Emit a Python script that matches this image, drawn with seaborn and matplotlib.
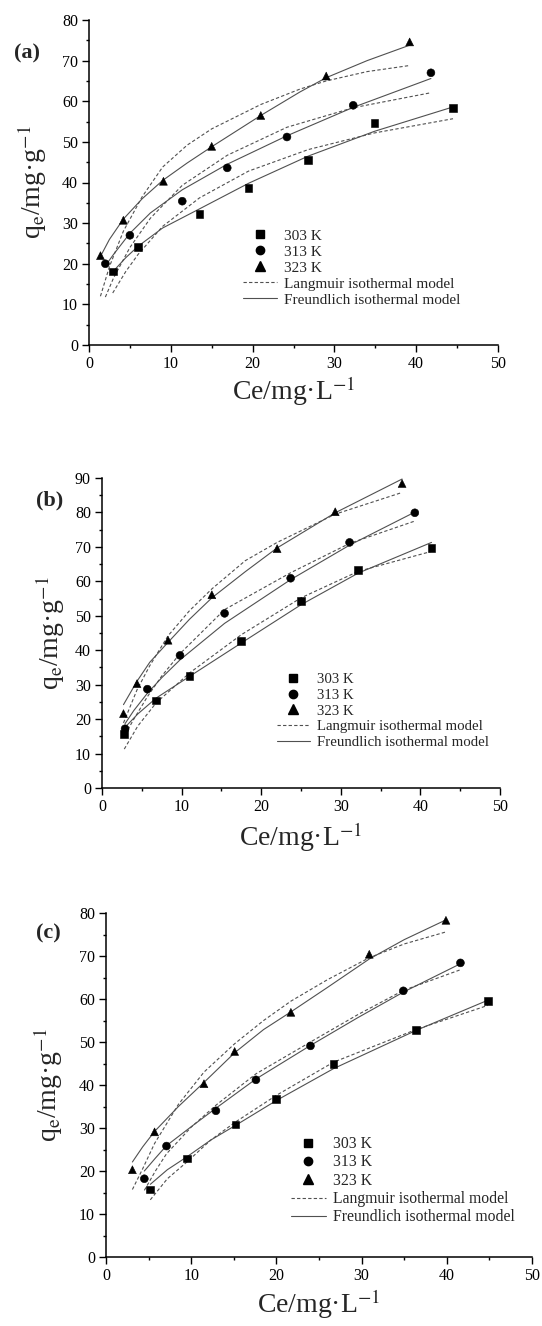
import numpy as np
import pandas as pd
import matplotlib
matplotlib.use("Agg")
import matplotlib.pyplot as plt
import seaborn as sns
from matplotlib.lines import Line2D
from matplotlib.ticker import MultipleLocator

# ---------------- data ----------------
TEMPS = ["303 K", "313 K", "323 K"]

# panel (a) experimental points
A_CE_303 = [2.9, 6.0, 13.5, 19.5, 26.8, 34.9, 44.5]
A_QE_303 = [18.1, 24.1, 32.2, 38.7, 45.6, 54.7, 58.4]
A_CE_313 = [2.0, 5.0, 11.4, 16.9, 24.2, 32.3, 41.8]
A_QE_313 = [20.0, 27.0, 35.4, 43.6, 51.2, 59.0, 67.0]
A_CE_323 = [1.4, 4.2, 9.1, 15.0, 21.0, 29.0, 39.2]
A_QE_323 = [22.0, 30.7, 40.3, 48.9, 56.5, 66.2, 74.6]
# panel (a) model curves
A_FX_303 = [2.9, 4.5, 6.0, 9.0, 13.5, 19.5, 26.8, 34.9, 44.5]
A_LANG_303 = [12.8, 18.1, 22.3, 29.2, 36.2, 42.8, 48.1, 52.2, 55.7]
A_FREU_303 = [18.0, 21.5, 24.3, 28.8, 33.5, 39.8, 46.5, 52.6, 58.6]
A_FX_313 = [2.0, 3.0, 5.0, 7.5, 11.4, 16.9, 24.2, 32.3, 41.8]
A_LANG_313 = [11.8, 16.5, 24.0, 31.2, 39.3, 46.7, 53.6, 58.4, 62.1]
A_FREU_313 = [19.5, 22.3, 27.5, 32.5, 38.2, 44.5, 51.5, 58.5, 65.6]
A_FX_323 = [1.4, 2.5, 4.2, 6.5, 9.0, 12.0, 15.0, 21.0, 25.8, 29.0, 34.0, 39.2]
A_LANG_323 = [12.0, 19.3, 28.0, 36.5, 43.8, 49.2, 53.2, 59.2, 63.0, 65.0, 67.3, 68.8]
A_FREU_323 = [21.8, 26.0, 31.0, 36.0, 40.5, 44.8, 48.8, 56.5, 62.3, 65.8, 70.0, 73.8]

# panel (b) experimental points
B_CE_303 = [2.8, 6.8, 11.0, 17.5, 25.0, 32.2, 41.4]
B_QE_303 = [15.8, 25.4, 32.6, 42.7, 54.3, 63.4, 69.8]
B_CE_313 = [2.9, 5.7, 9.8, 15.4, 23.7, 31.1, 39.3]
B_QE_313 = [17.2, 28.7, 38.5, 50.7, 60.9, 71.3, 79.9]
B_CE_323 = [2.7, 4.4, 8.3, 13.8, 22.0, 29.3, 37.7]
B_QE_323 = [21.6, 30.3, 42.9, 56.1, 69.5, 80.2, 88.4]
# panel (b) model curves
B_FX_303 = [2.8, 4.5, 6.8, 11.0, 17.5, 25.0, 32.2, 41.4]
B_LANG_303 = [11.3, 18.0, 24.7, 33.4, 44.5, 55.2, 62.9, 68.7]
B_FREU_303 = [17.4, 21.5, 26.1, 32.4, 42.1, 53.2, 62.4, 71.3]
B_FX_313 = [2.9, 4.0, 5.7, 7.5, 9.8, 15.4, 23.7, 31.1, 39.3]
B_LANG_313 = [15.5, 20.0, 26.5, 32.5, 39.0, 51.8, 62.5, 71.0, 77.5]
B_FREU_313 = [18.7, 22.5, 27.5, 32.0, 37.2, 47.8, 60.5, 70.5, 80.1]
B_FX_323 = [2.7, 4.4, 6.0, 8.3, 11.0, 13.8, 18.0, 22.0, 29.3, 37.7]
B_LANG_323 = [18.9, 28.5, 35.5, 44.2, 51.5, 57.8, 66.0, 71.3, 79.5, 85.8]
B_FREU_323 = [24.2, 31.0, 36.5, 42.3, 49.0, 55.2, 62.8, 69.7, 79.9, 89.7]

# panel (c) experimental points
C_CE_303 = [5.2, 9.5, 15.2, 20.0, 26.7, 36.4, 44.8]
C_QE_303 = [15.7, 22.9, 30.8, 36.7, 44.9, 52.7, 59.5]
C_CE_313 = [4.5, 7.1, 12.9, 17.6, 24.0, 34.9, 41.6]
C_QE_313 = [18.2, 25.8, 34.0, 41.2, 49.1, 61.9, 68.4]
C_CE_323 = [3.1, 5.7, 11.5, 15.1, 21.7, 30.9, 39.9]
C_QE_323 = [20.3, 29.1, 40.3, 47.8, 56.9, 70.4, 78.3]
# panel (c) model curves
C_FX_303 = [5.2, 7.2, 9.5, 12.3, 15.2, 20.0, 26.7, 36.4, 44.8]
C_LANG_303 = [13.3, 18.2, 22.1, 27.2, 31.4, 37.6, 45.3, 52.9, 58.5]
C_FREU_303 = [16.9, 20.3, 23.3, 27.2, 30.6, 36.4, 43.8, 52.7, 59.7]
C_FX_313 = [4.5, 5.8, 7.1, 10.0, 12.9, 17.6, 24.0, 29.5, 34.9, 41.6]
C_LANG_313 = [15.5, 20.0, 24.0, 30.2, 35.3, 42.6, 50.0, 56.3, 62.0, 66.8]
C_FREU_313 = [20.0, 23.0, 25.9, 30.3, 34.6, 41.4, 49.2, 55.6, 61.6, 68.2]
C_FX_323 = [3.1, 4.3, 5.7, 8.5, 11.5, 15.1, 18.5, 21.7, 26.0, 30.9, 35.0, 39.9]
C_LANG_323 = [15.7, 20.5, 26.4, 35.5, 43.0, 49.6, 55.0, 59.5, 64.5, 69.6, 72.8, 75.6]
C_FREU_323 = [22.1, 25.6, 29.2, 35.0, 40.6, 47.5, 52.9, 57.0, 62.7, 69.3, 73.8, 78.4]

LEGEND_LABELS = ["303 K", "313 K", "323 K",
                 "Langmuir isothermal model", "Freundlich isothermal model"]
X_LABEL = "Ce/mg\u00b7L$^{-1}$"
Y_LABEL = "q$_\\mathrm{e}$/mg\u00b7g$^{-1}$"


def points_frame(ces, qes):
    rows = []
    for t, ce, qe in zip(TEMPS, ces, qes):
        rows.append(pd.DataFrame({"Ce": ce, "qe": qe, "temp": t}))
    return pd.concat(rows, ignore_index=True)


def fits_frame(fxs, langs, freus):
    rows = []
    for t, fx, la, fr in zip(TEMPS, fxs, langs, freus):
        rows.append(pd.DataFrame({"Ce": fx, "qe": la, "temp": t, "model": "Langmuir"}))
        rows.append(pd.DataFrame({"Ce": fx, "qe": fr, "temp": t, "model": "Freundlich"}))
    return pd.concat(rows, ignore_index=True)


panels = [
    dict(pts=points_frame([A_CE_303, A_CE_313, A_CE_323], [A_QE_303, A_QE_313, A_QE_323]),
         fits=fits_frame([A_FX_303, A_FX_313, A_FX_323], [A_LANG_303, A_LANG_313, A_LANG_323],
                         [A_FREU_303, A_FREU_313, A_FREU_323]),
         ymax=80, rect=(89, 20, 498, 345), tag="(a)", tagpos=(27, 53),
         ylx=32, xly=391, leg=(243, 229), legfs=11),
    dict(pts=points_frame([B_CE_303, B_CE_313, B_CE_323], [B_QE_303, B_QE_313, B_QE_323]),
         fits=fits_frame([B_FX_303, B_FX_313, B_FX_323], [B_LANG_303, B_LANG_313, B_LANG_323],
                         [B_FREU_303, B_FREU_313, B_FREU_323]),
         ymax=90, rect=(102, 478, 500, 788), tag="(b)", tagpos=(50, 500),
         ylx=50, xly=837, leg=(277, 673), legfs=10.7),
    dict(pts=points_frame([C_CE_303, C_CE_313, C_CE_323], [C_QE_303, C_QE_313, C_QE_323]),
         fits=fits_frame([C_FX_303, C_FX_313, C_FX_323], [C_LANG_303, C_LANG_313, C_LANG_323],
                         [C_FREU_303, C_FREU_313, C_FREU_323]),
         ymax=80, rect=(106, 913, 532, 1257), tag="(c)", tagpos=(48, 933),
         ylx=48, xly=1304, leg=(291, 1136), legfs=11.3),
]

sns.set_style("ticks")
plt.rcParams["font.family"] = ["Liberation Serif", "DejaVu Serif"]
plt.rcParams["mathtext.fontset"] = "stix"

W, H = 542, 1326
fig = plt.figure(figsize=(W / 100, H / 100), dpi=100)

LINE_COLOR = "#505050"
DASH = (3, 2)
MARKERS = {"303 K": "s", "313 K": "o", "323 K": "^"}

for p in panels:
    l, t, r, b = p["rect"]
    ax = fig.add_axes([l / W, 1 - b / H, (r - l) / W, (b - t) / H])
    sns.lineplot(data=p["fits"], x="Ce", y="qe", units="temp", style="model",
                 estimator=None, sort=False, color=LINE_COLOR, linewidth=0.8,
                 dashes={"Langmuir": DASH, "Freundlich": ""}, legend=False, ax=ax)
    sns.scatterplot(data=p["pts"], x="Ce", y="qe", style="temp", markers=MARKERS,
                    color="black", edgecolor="black", s=32, linewidth=0.4,
                    legend=False, ax=ax, zorder=3)
    ax.set_xlim(0, 50)
    ax.set_ylim(0, p["ymax"])
    ax.xaxis.set_major_locator(MultipleLocator(10))
    ax.xaxis.set_minor_locator(MultipleLocator(5))
    ax.yaxis.set_major_locator(MultipleLocator(10))
    ax.yaxis.set_minor_locator(MultipleLocator(5))
    sns.despine(ax=ax)
    for s in ("left", "bottom"):
        ax.spines[s].set_linewidth(1.1)
        ax.spines[s].set_color("black")
    ax.tick_params(which="major", direction="out", length=5, width=1.0,
                   labelsize=11.5, colors="black", pad=3)
    ax.tick_params(which="minor", direction="out", length=2.5, width=1.0, colors="black")

    ax.set_xlabel(X_LABEL, fontsize=20, va="center")
    ax.set_ylabel(Y_LABEL, fontsize=20, va="center")
    ax.xaxis.set_label_coords(0.5, (b - p["xly"]) / (b - t))
    ax.yaxis.set_label_coords((p["ylx"] - l) / (r - l), 0.5)

    handles = [
        Line2D([], [], marker="s", ls="none", color="black", markersize=5.5),
        Line2D([], [], marker="o", ls="none", color="black", markersize=6),
        Line2D([], [], marker="^", ls="none", color="black", markersize=6.5),
        Line2D([], [], color=LINE_COLOR, lw=0.8, ls=(0, DASH)),
        Line2D([], [], color=LINE_COLOR, lw=0.8, ls="-"),
    ]
    lx, ly = p["leg"]
    ax.legend(handles, LEGEND_LABELS, loc="upper left",
              bbox_to_anchor=((lx - l) / (r - l), (b - ly) / (b - t)),
              frameon=False, fontsize=p["legfs"], handlelength=2.2,
              handletextpad=0.5, labelspacing=0.15, borderpad=0, borderaxespad=0)

    fig.text(p["tagpos"][0] / W, 1 - p["tagpos"][1] / H, p["tag"],
             fontsize=16, fontweight="bold", ha="center", va="center")

fig.savefig("out.png", dpi=100, facecolor="white")
